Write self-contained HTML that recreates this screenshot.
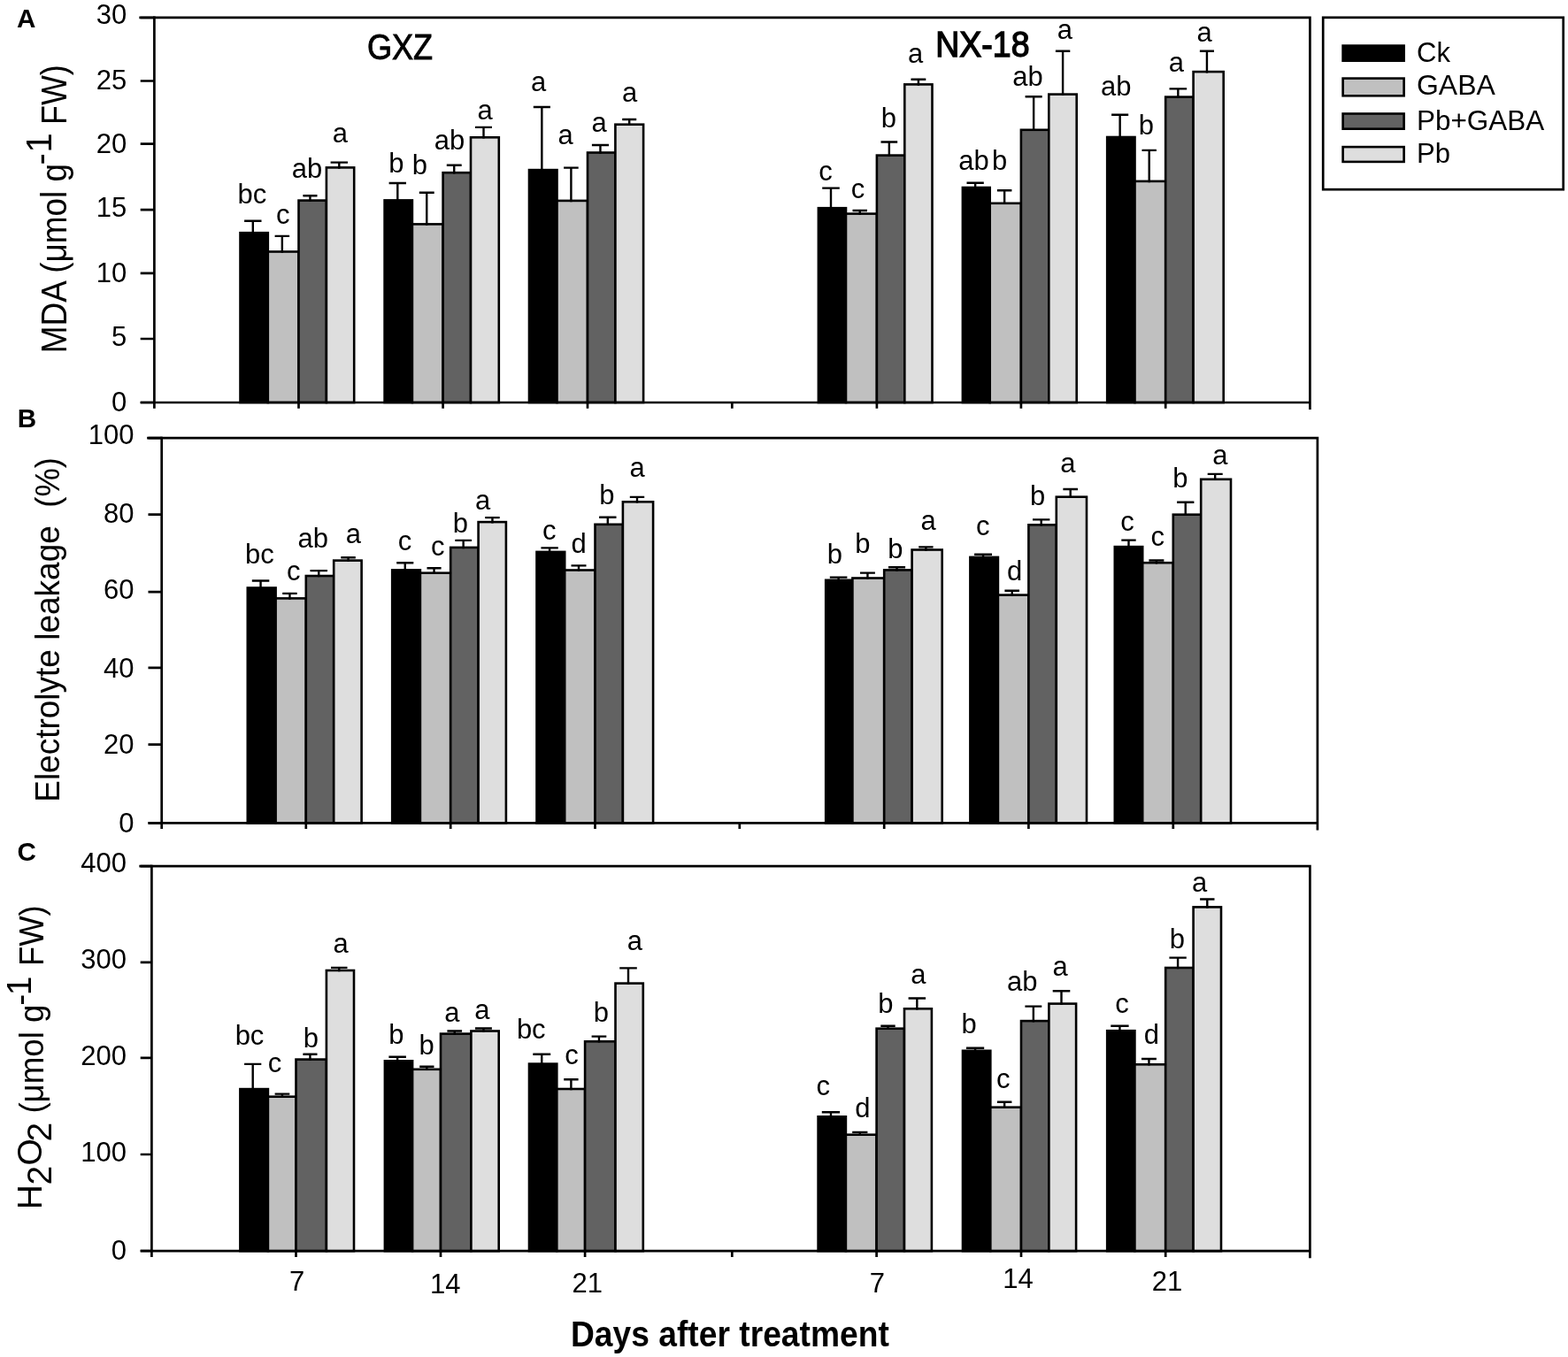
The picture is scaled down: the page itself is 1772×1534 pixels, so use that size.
<!DOCTYPE html>
<html><head><meta charset="utf-8"><title>MDA, electrolyte leakage and H2O2</title>
<style>html,body{margin:0;padding:0;background:#fff;width:1772px;height:1534px;overflow:hidden}svg{display:block}text{font-family:"Liberation Sans",Arial,sans-serif;fill:#000}</style>
</head><body>
<svg width="1772" height="1534" viewBox="0 0 1772 1534">
<rect x="0" y="0" width="1772" height="1534" fill="#fff"/>
<g id="panelA">
<rect x="271.5" y="263.2" width="31.3" height="191.8" fill="#000000" stroke="#000" stroke-width="2.6"/>
<rect x="302.8" y="284.5" width="34.7" height="170.5" fill="#c0c0c0" stroke="#000" stroke-width="2.6"/>
<rect x="337.5" y="226.6" width="31.4" height="228.4" fill="#626262" stroke="#000" stroke-width="2.6"/>
<rect x="368.9" y="189.4" width="31.3" height="265.6" fill="#dedede" stroke="#000" stroke-width="2.6"/>
<path d="M276.1 249.7H295.5M285.8 249.7V264.5" stroke="#000" stroke-width="2.4" fill="none"/>
<text x="284.95" y="229.6" font-size="31" text-anchor="middle">bc</text>
<path d="M310.6 266.9H327.1M318.85 266.9V285.8" stroke="#000" stroke-width="2.4" fill="none"/>
<text x="319.7" y="252.6" font-size="31" text-anchor="middle">c</text>
<path d="M342.4 221.3H358.5M350.45 221.3V227.9" stroke="#000" stroke-width="2.4" fill="none"/>
<text x="346.9" y="201" font-size="31" text-anchor="middle">ab</text>
<path d="M373.6 183.6H393M383.3 183.6V190.7" stroke="#000" stroke-width="2.4" fill="none"/>
<text x="384.25" y="161.2" font-size="31" text-anchor="middle">a</text>
<rect x="434.6" y="226.4" width="31.3" height="228.6" fill="#000000" stroke="#000" stroke-width="2.6"/>
<rect x="465.9" y="253.4" width="34.7" height="201.6" fill="#c0c0c0" stroke="#000" stroke-width="2.6"/>
<rect x="500.6" y="195.2" width="31.4" height="259.8" fill="#626262" stroke="#000" stroke-width="2.6"/>
<rect x="532" y="155.3" width="31.8" height="299.7" fill="#dedede" stroke="#000" stroke-width="2.6"/>
<path d="M439.6 207H459M449.3 207V227.7" stroke="#000" stroke-width="2.4" fill="none"/>
<text x="447.9" y="195" font-size="31" text-anchor="middle">b</text>
<path d="M473.8 217.8H490.7M482.25 217.8V254.7" stroke="#000" stroke-width="2.4" fill="none"/>
<text x="474.4" y="197.4" font-size="31" text-anchor="middle">b</text>
<path d="M504.8 186.8H521.7M513.25 186.8V196.5" stroke="#000" stroke-width="2.4" fill="none"/>
<text x="508.05" y="169.2" font-size="31" text-anchor="middle">ab</text>
<path d="M537 143.9H556M546.5 143.9V156.6" stroke="#000" stroke-width="2.4" fill="none"/>
<text x="548" y="135.2" font-size="31" text-anchor="middle">a</text>
<rect x="598" y="192.1" width="31.5" height="262.9" fill="#000000" stroke="#000" stroke-width="2.6"/>
<rect x="629.5" y="226.9" width="34.5" height="228.1" fill="#c0c0c0" stroke="#000" stroke-width="2.6"/>
<rect x="664" y="172.5" width="31.4" height="282.5" fill="#626262" stroke="#000" stroke-width="2.6"/>
<rect x="695.4" y="140.7" width="31.7" height="314.3" fill="#dedede" stroke="#000" stroke-width="2.6"/>
<path d="M602.8 121H621.9M612.35 121V193.4" stroke="#000" stroke-width="2.4" fill="none"/>
<text x="608.5" y="103" font-size="31" text-anchor="middle">a</text>
<path d="M637.1 189.6H653.7M645.4 189.6V228.2" stroke="#000" stroke-width="2.4" fill="none"/>
<text x="639" y="162.8" font-size="31" text-anchor="middle">a</text>
<path d="M668.9 164H688M678.45 164V173.8" stroke="#000" stroke-width="2.4" fill="none"/>
<text x="677.2" y="148.8" font-size="31" text-anchor="middle">a</text>
<path d="M703.2 135H719.2M711.2 135V142" stroke="#000" stroke-width="2.4" fill="none"/>
<text x="711.5" y="114.5" font-size="31" text-anchor="middle">a</text>
<rect x="924.9" y="235.2" width="31.1" height="219.8" fill="#000000" stroke="#000" stroke-width="2.6"/>
<rect x="956" y="241.6" width="34.9" height="213.4" fill="#c0c0c0" stroke="#000" stroke-width="2.6"/>
<rect x="990.9" y="175.6" width="31.4" height="279.4" fill="#626262" stroke="#000" stroke-width="2.6"/>
<rect x="1022.3" y="95.4" width="31.2" height="359.6" fill="#dedede" stroke="#000" stroke-width="2.6"/>
<path d="M929.2 212.6H948.8M939 212.6V236.5" stroke="#000" stroke-width="2.4" fill="none"/>
<text x="933.1" y="203.7" font-size="31" text-anchor="middle">c</text>
<path d="M963.5 238H980M971.75 238V242.9" stroke="#000" stroke-width="2.4" fill="none"/>
<text x="969.45" y="223.7" font-size="31" text-anchor="middle">c</text>
<path d="M995.5 160.5H1014.2M1004.85 160.5V176.9" stroke="#000" stroke-width="2.4" fill="none"/>
<text x="1004.25" y="143.6" font-size="31" text-anchor="middle">b</text>
<path d="M1029.5 89.7H1046.3M1037.9 89.7V96.7" stroke="#000" stroke-width="2.4" fill="none"/>
<text x="1034.55" y="71.4" font-size="31" text-anchor="middle">a</text>
<rect x="1087.9" y="212" width="30.8" height="243" fill="#000000" stroke="#000" stroke-width="2.6"/>
<rect x="1118.7" y="229.8" width="35.2" height="225.2" fill="#c0c0c0" stroke="#000" stroke-width="2.6"/>
<rect x="1153.9" y="146.8" width="31.4" height="308.2" fill="#626262" stroke="#000" stroke-width="2.6"/>
<rect x="1185.3" y="106.6" width="31.4" height="348.4" fill="#dedede" stroke="#000" stroke-width="2.6"/>
<path d="M1092.5 206.8H1111.8M1102.15 206.8V213.3" stroke="#000" stroke-width="2.4" fill="none"/>
<text x="1100.5" y="192.3" font-size="31" text-anchor="middle">ab</text>
<path d="M1126.9 215.2H1143.4M1135.15 215.2V231.1" stroke="#000" stroke-width="2.4" fill="none"/>
<text x="1129.6" y="192.3" font-size="31" text-anchor="middle">b</text>
<path d="M1158.6 109.2H1177.7M1168.15 109.2V148.1" stroke="#000" stroke-width="2.4" fill="none"/>
<text x="1161.4" y="97.4" font-size="31" text-anchor="middle">ab</text>
<path d="M1192.9 57.8H1209.3M1201.1 57.8V107.9" stroke="#000" stroke-width="2.4" fill="none"/>
<text x="1203.35" y="43.7" font-size="31" text-anchor="middle">a</text>
<rect x="1251.2" y="155" width="31.3" height="300" fill="#000000" stroke="#000" stroke-width="2.6"/>
<rect x="1282.5" y="204.9" width="34.7" height="250.1" fill="#c0c0c0" stroke="#000" stroke-width="2.6"/>
<rect x="1317.2" y="109.6" width="31.4" height="345.4" fill="#626262" stroke="#000" stroke-width="2.6"/>
<rect x="1348.6" y="81.1" width="34.1" height="373.9" fill="#dedede" stroke="#000" stroke-width="2.6"/>
<path d="M1256.1 129.7H1275.2M1265.65 129.7V156.3" stroke="#000" stroke-width="2.4" fill="none"/>
<text x="1261.25" y="108.3" font-size="31" text-anchor="middle">ab</text>
<path d="M1290.5 169.9H1306.9M1298.7 169.9V206.2" stroke="#000" stroke-width="2.4" fill="none"/>
<text x="1295.45" y="152.3" font-size="31" text-anchor="middle">b</text>
<path d="M1321.5 100.4H1341.2M1331.35 100.4V110.9" stroke="#000" stroke-width="2.4" fill="none"/>
<text x="1329.45" y="81" font-size="31" text-anchor="middle">a</text>
<path d="M1355.9 57.8H1372M1363.95 57.8V82.4" stroke="#000" stroke-width="2.4" fill="none"/>
<text x="1361" y="46.7" font-size="31" text-anchor="middle">a</text>
<path d="M158.7 19.9H1480.4V461.7" stroke="#000" stroke-width="2.7" fill="none" stroke-linecap="square"/>
<path d="M174.4 18.55V461.7" stroke="#000" stroke-width="2.7" fill="none"/>
<path d="M158.7 455H1480.4" stroke="#000" stroke-width="2.7" fill="none"/>
<path d="M158.7 20H174.4M158.7 91.5H174.4M158.7 162.7H174.4M158.7 237.1H174.4M158.7 308.8H174.4M158.7 383H174.4M158.7 455H174.4" stroke="#000" stroke-width="2.7" fill="none"/>
<path d="M827.3 455V461.7M337.5 455V461.7M500.6 455V461.7M664 455V461.7M990.9 455V461.7M1153.9 455V461.7M1317.2 455V461.7" stroke="#000" stroke-width="2.7" fill="none"/>
<text x="143.2" y="27.1" font-size="31" text-anchor="end">30</text>
<text x="143.2" y="101.4" font-size="31" text-anchor="end">25</text>
<text x="143.2" y="172.9" font-size="31" text-anchor="end">20</text>
<text x="143.2" y="244.8" font-size="31" text-anchor="end">15</text>
<text x="143.2" y="319" font-size="31" text-anchor="end">10</text>
<text x="143.2" y="391" font-size="31" text-anchor="end">5</text>
<text x="143.2" y="464.9" font-size="31" text-anchor="end">0</text>
</g>
<g id="panelB">
<rect x="279.8" y="664.5" width="31.8" height="265.9" fill="#000000" stroke="#000" stroke-width="2.6"/>
<rect x="311.6" y="676.4" width="34.2" height="254" fill="#c0c0c0" stroke="#000" stroke-width="2.6"/>
<rect x="345.8" y="651" width="31.4" height="279.4" fill="#626262" stroke="#000" stroke-width="2.6"/>
<rect x="377.2" y="633.6" width="31.4" height="296.8" fill="#dedede" stroke="#000" stroke-width="2.6"/>
<path d="M284.8 656.5H304.3M294.55 656.5V665.8" stroke="#000" stroke-width="2.4" fill="none"/>
<text x="293.35" y="636.5" font-size="31" text-anchor="middle">bc</text>
<path d="M319.2 670.9H335.7M327.45 670.9V677.7" stroke="#000" stroke-width="2.4" fill="none"/>
<text x="331.65" y="656.4" font-size="31" text-anchor="middle">c</text>
<path d="M350.5 645.1H370M360.25 645.1V652.3" stroke="#000" stroke-width="2.4" fill="none"/>
<text x="353.7" y="619.2" font-size="31" text-anchor="middle">ab</text>
<path d="M385.3 630.2H401.8M393.55 630.2V634.9" stroke="#000" stroke-width="2.4" fill="none"/>
<text x="399.25" y="613.6" font-size="31" text-anchor="middle">a</text>
<rect x="443.2" y="644.4" width="31.7" height="286" fill="#000000" stroke="#000" stroke-width="2.6"/>
<rect x="474.9" y="647.7" width="34.3" height="282.7" fill="#c0c0c0" stroke="#000" stroke-width="2.6"/>
<rect x="509.2" y="618.9" width="31.4" height="311.5" fill="#626262" stroke="#000" stroke-width="2.6"/>
<rect x="540.6" y="590.1" width="31.3" height="340.3" fill="#dedede" stroke="#000" stroke-width="2.6"/>
<path d="M448.2 636.3H467.3M457.75 636.3V645.7" stroke="#000" stroke-width="2.4" fill="none"/>
<text x="457.5" y="622.3" font-size="31" text-anchor="middle">c</text>
<path d="M482.5 642.3H498.6M490.55 642.3V649" stroke="#000" stroke-width="2.4" fill="none"/>
<text x="494.8" y="627.8" font-size="31" text-anchor="middle">c</text>
<path d="M514.3 610.9H533M523.65 610.9V620.2" stroke="#000" stroke-width="2.4" fill="none"/>
<text x="520.25" y="601.5" font-size="31" text-anchor="middle">b</text>
<path d="M548.2 585.1H564.7M556.45 585.1V591.4" stroke="#000" stroke-width="2.4" fill="none"/>
<text x="545.7" y="576.1" font-size="31" text-anchor="middle">a</text>
<rect x="606.5" y="623.9" width="31.7" height="306.5" fill="#000000" stroke="#000" stroke-width="2.6"/>
<rect x="638.2" y="644.5" width="34.3" height="285.9" fill="#c0c0c0" stroke="#000" stroke-width="2.6"/>
<rect x="672.5" y="592.8" width="31.4" height="337.6" fill="#626262" stroke="#000" stroke-width="2.6"/>
<rect x="703.9" y="567.3" width="34.2" height="363.1" fill="#dedede" stroke="#000" stroke-width="2.6"/>
<path d="M611.4 619.4H630.8M621.1 619.4V625.2" stroke="#000" stroke-width="2.4" fill="none"/>
<text x="620.8" y="610.3" font-size="31" text-anchor="middle">c</text>
<path d="M645.5 639.4H662.5M654 639.4V645.8" stroke="#000" stroke-width="2.4" fill="none"/>
<text x="654" y="625" font-size="31" text-anchor="middle">d</text>
<path d="M677.1 584.8H696.5M686.8 584.8V594.1" stroke="#000" stroke-width="2.4" fill="none"/>
<text x="685.95" y="570.4" font-size="31" text-anchor="middle">b</text>
<path d="M711.8 561.9H728.2M720 561.9V568.6" stroke="#000" stroke-width="2.4" fill="none"/>
<text x="720" y="538.7" font-size="31" text-anchor="middle">a</text>
<rect x="933.2" y="655.8" width="30.2" height="274.6" fill="#000000" stroke="#000" stroke-width="2.6"/>
<rect x="963.4" y="653.5" width="35.8" height="276.9" fill="#c0c0c0" stroke="#000" stroke-width="2.6"/>
<rect x="999.2" y="644.4" width="31.4" height="286" fill="#626262" stroke="#000" stroke-width="2.6"/>
<rect x="1030.6" y="621.5" width="34.1" height="308.9" fill="#dedede" stroke="#000" stroke-width="2.6"/>
<path d="M937.8 652.6H957.4M947.6 652.6V657.1" stroke="#000" stroke-width="2.4" fill="none"/>
<text x="943.25" y="636.7" font-size="31" text-anchor="middle">b</text>
<path d="M972 647.6H988.9M980.45 647.6V654.8" stroke="#000" stroke-width="2.4" fill="none"/>
<text x="974.8" y="625.3" font-size="31" text-anchor="middle">b</text>
<path d="M1004 641.2H1023.1M1013.55 641.2V645.7" stroke="#000" stroke-width="2.4" fill="none"/>
<text x="1011.95" y="630.7" font-size="31" text-anchor="middle">b</text>
<path d="M1038.2 618.4H1054.6M1046.4 618.4V622.8" stroke="#000" stroke-width="2.4" fill="none"/>
<text x="1049.15" y="599.2" font-size="31" text-anchor="middle">a</text>
<rect x="1096.4" y="629.9" width="31.5" height="300.5" fill="#000000" stroke="#000" stroke-width="2.6"/>
<rect x="1127.9" y="672.6" width="34.5" height="257.8" fill="#c0c0c0" stroke="#000" stroke-width="2.6"/>
<rect x="1162.4" y="593.3" width="31.4" height="337.1" fill="#626262" stroke="#000" stroke-width="2.6"/>
<rect x="1193.8" y="561.7" width="34.2" height="368.7" fill="#dedede" stroke="#000" stroke-width="2.6"/>
<path d="M1101.1 626.7H1121M1111.05 626.7V631.2" stroke="#000" stroke-width="2.4" fill="none"/>
<text x="1110.75" y="605.3" font-size="31" text-anchor="middle">c</text>
<path d="M1135.4 667.7H1152M1143.7 667.7V673.9" stroke="#000" stroke-width="2.4" fill="none"/>
<text x="1146.5" y="656.3" font-size="31" text-anchor="middle">d</text>
<path d="M1167 587.4H1186.4M1176.7 587.4V594.6" stroke="#000" stroke-width="2.4" fill="none"/>
<text x="1172.55" y="571" font-size="31" text-anchor="middle">b</text>
<path d="M1201.4 553H1218M1209.7 553V563" stroke="#000" stroke-width="2.4" fill="none"/>
<text x="1206.9" y="533.9" font-size="31" text-anchor="middle">a</text>
<rect x="1259.8" y="618.1" width="31.4" height="312.3" fill="#000000" stroke="#000" stroke-width="2.6"/>
<rect x="1291.2" y="636.2" width="34.6" height="294.2" fill="#c0c0c0" stroke="#000" stroke-width="2.6"/>
<rect x="1325.8" y="581.7" width="31.4" height="348.7" fill="#626262" stroke="#000" stroke-width="2.6"/>
<rect x="1357.2" y="541.8" width="33.8" height="388.6" fill="#dedede" stroke="#000" stroke-width="2.6"/>
<path d="M1267.3 610.6H1283.7M1275.5 610.6V619.4" stroke="#000" stroke-width="2.4" fill="none"/>
<text x="1274.05" y="599.7" font-size="31" text-anchor="middle">c</text>
<path d="M1298.4 633.5H1315.4M1306.9 633.5V637.5" stroke="#000" stroke-width="2.4" fill="none"/>
<text x="1308.35" y="616.8" font-size="31" text-anchor="middle">c</text>
<path d="M1330.1 567.8H1349.4M1339.75 567.8V583" stroke="#000" stroke-width="2.4" fill="none"/>
<text x="1333.9" y="551" font-size="31" text-anchor="middle">b</text>
<path d="M1364.7 535.9H1381.7M1373.2 535.9V543.1" stroke="#000" stroke-width="2.4" fill="none"/>
<text x="1378.75" y="525.2" font-size="31" text-anchor="middle">a</text>
<path d="M167.5 495.2H1488.9V937.1" stroke="#000" stroke-width="2.7" fill="none" stroke-linecap="square"/>
<path d="M182.7 493.85V937.1" stroke="#000" stroke-width="2.7" fill="none"/>
<path d="M167.5 930.4H1488.9" stroke="#000" stroke-width="2.7" fill="none"/>
<path d="M167.5 495.2H182.7M167.5 581.6H182.7M167.5 669.2H182.7M167.5 754.8H182.7M167.5 841.7H182.7M167.5 930.4H182.7" stroke="#000" stroke-width="2.7" fill="none"/>
<path d="M835.8 930.4V937.1M345.8 930.4V937.1M509.2 930.4V937.1M672.5 930.4V937.1M999.2 930.4V937.1M1162.4 930.4V937.1M1325.8 930.4V937.1" stroke="#000" stroke-width="2.7" fill="none"/>
<text x="151.4" y="502.2" font-size="31" text-anchor="end">100</text>
<text x="151.4" y="591.2" font-size="31" text-anchor="end">80</text>
<text x="151.4" y="677" font-size="31" text-anchor="end">60</text>
<text x="151.4" y="765.5" font-size="31" text-anchor="end">40</text>
<text x="151.4" y="852.3" font-size="31" text-anchor="end">20</text>
<text x="151.4" y="940.5" font-size="31" text-anchor="end">0</text>
</g>
<g id="panelC">
<rect x="271.4" y="1231.1" width="31.5" height="183.1" fill="#000000" stroke="#000" stroke-width="2.6"/>
<rect x="302.9" y="1239.7" width="31.6" height="174.5" fill="#c0c0c0" stroke="#000" stroke-width="2.6"/>
<rect x="334.5" y="1197.6" width="34.4" height="216.6" fill="#626262" stroke="#000" stroke-width="2.6"/>
<rect x="368.9" y="1097" width="31.1" height="317.2" fill="#dedede" stroke="#000" stroke-width="2.6"/>
<path d="M276.1 1202.9H295.3M285.7 1202.9V1232.4" stroke="#000" stroke-width="2.4" fill="none"/>
<text x="282" y="1180.6" font-size="31" text-anchor="middle">bc</text>
<path d="M310.6 1236.6H327.3M318.95 1236.6V1241" stroke="#000" stroke-width="2.4" fill="none"/>
<text x="310.45" y="1212.2" font-size="31" text-anchor="middle">c</text>
<path d="M342.4 1191.8H358.5M350.45 1191.8V1198.9" stroke="#000" stroke-width="2.4" fill="none"/>
<text x="351.35" y="1183.7" font-size="31" text-anchor="middle">b</text>
<path d="M374 1093.9H392.5M383.25 1093.9V1098.3" stroke="#000" stroke-width="2.4" fill="none"/>
<text x="385.1" y="1077.2" font-size="31" text-anchor="middle">a</text>
<rect x="434.9" y="1199.3" width="31.2" height="214.9" fill="#000000" stroke="#000" stroke-width="2.6"/>
<rect x="466.1" y="1208.8" width="31.9" height="205.4" fill="#c0c0c0" stroke="#000" stroke-width="2.6"/>
<rect x="498" y="1168.6" width="34.4" height="245.6" fill="#626262" stroke="#000" stroke-width="2.6"/>
<rect x="532.4" y="1165.5" width="31.3" height="248.7" fill="#dedede" stroke="#000" stroke-width="2.6"/>
<path d="M439.4 1194.7H458.9M449.15 1194.7V1200.6" stroke="#000" stroke-width="2.4" fill="none"/>
<text x="447.8" y="1180.4" font-size="31" text-anchor="middle">b</text>
<path d="M474.2 1205.7H490.5M482.35 1205.7V1210.1" stroke="#000" stroke-width="2.4" fill="none"/>
<text x="482.1" y="1191.7" font-size="31" text-anchor="middle">b</text>
<path d="M505.4 1165.5H522.1M513.75 1165.5V1169.9" stroke="#000" stroke-width="2.4" fill="none"/>
<text x="510.8" y="1154.7" font-size="31" text-anchor="middle">a</text>
<path d="M537 1162.5H555.9M546.45 1162.5V1166.8" stroke="#000" stroke-width="2.4" fill="none"/>
<text x="544.9" y="1151.5" font-size="31" text-anchor="middle">a</text>
<rect x="598" y="1202.6" width="31.3" height="211.6" fill="#000000" stroke="#000" stroke-width="2.6"/>
<rect x="629.3" y="1231" width="31.8" height="183.2" fill="#c0c0c0" stroke="#000" stroke-width="2.6"/>
<rect x="661.1" y="1177.3" width="34.4" height="236.9" fill="#626262" stroke="#000" stroke-width="2.6"/>
<rect x="695.5" y="1111.6" width="31.3" height="302.6" fill="#dedede" stroke="#000" stroke-width="2.6"/>
<path d="M602.3 1191.8H622.2M612.25 1191.8V1203.9" stroke="#000" stroke-width="2.4" fill="none"/>
<text x="600.25" y="1173.8" font-size="31" text-anchor="middle">bc</text>
<path d="M637.2 1220.2H653.6M645.4 1220.2V1232.3" stroke="#000" stroke-width="2.4" fill="none"/>
<text x="646" y="1202.9" font-size="31" text-anchor="middle">c</text>
<path d="M668.6 1171.6H685.3M676.95 1171.6V1178.6" stroke="#000" stroke-width="2.4" fill="none"/>
<text x="679.45" y="1154.6" font-size="31" text-anchor="middle">b</text>
<path d="M700.2 1094.4H719.8M710 1094.4V1112.9" stroke="#000" stroke-width="2.4" fill="none"/>
<text x="717.25" y="1074.1" font-size="31" text-anchor="middle">a</text>
<rect x="924.6" y="1262.3" width="31.3" height="151.9" fill="#000000" stroke="#000" stroke-width="2.6"/>
<rect x="955.9" y="1282.7" width="34.7" height="131.5" fill="#c0c0c0" stroke="#000" stroke-width="2.6"/>
<rect x="990.6" y="1162.7" width="31.4" height="251.5" fill="#626262" stroke="#000" stroke-width="2.6"/>
<rect x="1022" y="1140.3" width="30.9" height="273.9" fill="#dedede" stroke="#000" stroke-width="2.6"/>
<path d="M928.8 1257.2H949.1M938.95 1257.2V1263.6" stroke="#000" stroke-width="2.4" fill="none"/>
<text x="930.35" y="1237.6" font-size="31" text-anchor="middle">c</text>
<path d="M963.2 1279.9H980.4M971.8 1279.9V1284" stroke="#000" stroke-width="2.4" fill="none"/>
<text x="974.9" y="1263.4" font-size="31" text-anchor="middle">d</text>
<path d="M995.3 1159.8H1011.7M1003.5 1159.8V1164" stroke="#000" stroke-width="2.4" fill="none"/>
<text x="1000.75" y="1145.3" font-size="31" text-anchor="middle">b</text>
<path d="M1026.6 1128.5H1046.1M1036.35 1128.5V1141.6" stroke="#000" stroke-width="2.4" fill="none"/>
<text x="1037.9" y="1111.6" font-size="31" text-anchor="middle">a</text>
<rect x="1088" y="1187.8" width="31.3" height="226.4" fill="#000000" stroke="#000" stroke-width="2.6"/>
<rect x="1119.3" y="1251.7" width="34.7" height="162.5" fill="#c0c0c0" stroke="#000" stroke-width="2.6"/>
<rect x="1154" y="1154.1" width="31.4" height="260.1" fill="#626262" stroke="#000" stroke-width="2.6"/>
<rect x="1185.4" y="1134.6" width="30.7" height="279.6" fill="#dedede" stroke="#000" stroke-width="2.6"/>
<path d="M1092 1184.8H1112.2M1102.1 1184.8V1189.1" stroke="#000" stroke-width="2.4" fill="none"/>
<text x="1095.2" y="1168.2" font-size="31" text-anchor="middle">b</text>
<path d="M1126.9 1245.8H1143.4M1135.15 1245.8V1253" stroke="#000" stroke-width="2.4" fill="none"/>
<text x="1133.65" y="1229.5" font-size="31" text-anchor="middle">c</text>
<path d="M1158.4 1137.6H1177.3M1167.85 1137.6V1155.4" stroke="#000" stroke-width="2.4" fill="none"/>
<text x="1155.2" y="1120" font-size="31" text-anchor="middle">ab</text>
<path d="M1189.7 1120.2H1209.3M1199.5 1120.2V1135.9" stroke="#000" stroke-width="2.4" fill="none"/>
<text x="1198.2" y="1103" font-size="31" text-anchor="middle">a</text>
<rect x="1251.2" y="1165.2" width="31.2" height="249" fill="#000000" stroke="#000" stroke-width="2.6"/>
<rect x="1282.4" y="1203.3" width="34.8" height="210.9" fill="#c0c0c0" stroke="#000" stroke-width="2.6"/>
<rect x="1317.2" y="1094" width="31.4" height="320.2" fill="#626262" stroke="#000" stroke-width="2.6"/>
<rect x="1348.6" y="1025.4" width="31.4" height="388.8" fill="#dedede" stroke="#000" stroke-width="2.6"/>
<path d="M1255.3 1159.7H1275.6M1265.45 1159.7V1166.5" stroke="#000" stroke-width="2.4" fill="none"/>
<text x="1267.95" y="1145.3" font-size="31" text-anchor="middle">c</text>
<path d="M1290 1197H1306.9M1298.45 1197V1204.6" stroke="#000" stroke-width="2.4" fill="none"/>
<text x="1301.45" y="1180" font-size="31" text-anchor="middle">d</text>
<path d="M1321.4 1082.6H1340.8M1331.1 1082.6V1095.3" stroke="#000" stroke-width="2.4" fill="none"/>
<text x="1330.25" y="1071.5" font-size="31" text-anchor="middle">b</text>
<path d="M1356.1 1016.5H1372.5M1364.3 1016.5V1026.7" stroke="#000" stroke-width="2.4" fill="none"/>
<text x="1355.65" y="1008" font-size="31" text-anchor="middle">a</text>
<path d="M158.7 979.2H1480.4V1420.9" stroke="#000" stroke-width="2.7" fill="none" stroke-linecap="square"/>
<path d="M171.4 977.85V1420.9" stroke="#000" stroke-width="2.7" fill="none"/>
<path d="M158.7 1414.2H1480.4" stroke="#000" stroke-width="2.7" fill="none"/>
<path d="M158.7 979.2H171.4M158.7 1087.9H171.4M158.7 1195.9H171.4M158.7 1305H171.4M158.7 1414H171.4" stroke="#000" stroke-width="2.7" fill="none"/>
<path d="M827.3 1414.2V1420.9M334.5 1414.2V1420.9M498 1414.2V1420.9M661.1 1414.2V1420.9M990.6 1414.2V1420.9M1154 1414.2V1420.9M1317.2 1414.2V1420.9" stroke="#000" stroke-width="2.7" fill="none"/>
<text x="143.1" y="985.9" font-size="31" text-anchor="end">400</text>
<text x="143.1" y="1094.6" font-size="31" text-anchor="end">300</text>
<text x="143.1" y="1204.2" font-size="31" text-anchor="end">200</text>
<text x="143.1" y="1312.8" font-size="31" text-anchor="end">100</text>
<text x="143.1" y="1423.5" font-size="31" text-anchor="end">0</text>
</g>
<text x="19" y="31" font-size="29.6" font-weight="bold">A</text>
<text x="19.8" y="482.5" font-size="29.6" font-weight="bold">B</text>
<text x="19.5" y="973" font-size="29.6" font-weight="bold">C</text>
<text x="414.9" y="67.1" font-size="40" stroke="#000" stroke-width="0.9" textLength="74.2" lengthAdjust="spacingAndGlyphs">GXZ</text>
<text x="1057.3" y="64.2" font-size="40" stroke="#000" stroke-width="1.4" textLength="106.2" lengthAdjust="spacingAndGlyphs">NX-18</text>
<rect x="1495.2" y="19.8" width="271.5" height="194.4" fill="none" stroke="#000" stroke-width="2.7"/>
<rect x="1517.6" y="51.6" width="69" height="17.1" fill="#000000" stroke="#000" stroke-width="2.6"/>
<text x="1601" y="70" font-size="31">Ck</text>
<rect x="1517.6" y="88.6" width="69" height="19.7" fill="#c0c0c0" stroke="#000" stroke-width="2.6"/>
<text x="1601" y="107.1" font-size="31" textLength="88.8" lengthAdjust="spacingAndGlyphs">GABA</text>
<rect x="1517.6" y="128.5" width="69" height="17.2" fill="#626262" stroke="#000" stroke-width="2.6"/>
<text x="1601" y="146.7" font-size="31" textLength="144.1" lengthAdjust="spacingAndGlyphs">Pb+GABA</text>
<rect x="1517.6" y="166.1" width="69" height="16.8" fill="#dedede" stroke="#000" stroke-width="2.6"/>
<text x="1601" y="183.7" font-size="31">Pb</text>
<text transform="translate(75.1,0) rotate(-90)" font-size="40" x="-399.2" textLength="214.3" lengthAdjust="spacingAndGlyphs">MDA (μmol g</text>
<text transform="translate(58.6,0) rotate(-90)" font-size="40" x="-186.4">-</text>
<text transform="translate(58.2,0) rotate(-90)" font-size="40" x="-172.5">1</text>
<text transform="translate(75.1,0) rotate(-90)" font-size="40" x="-140.9" textLength="67.7" lengthAdjust="spacingAndGlyphs">FW)</text>
<text transform="translate(66.5,0) rotate(-90)" font-size="39" x="-906.8" textLength="312.6" lengthAdjust="spacingAndGlyphs">Electrolyte leakage</text>
<text transform="translate(66.5,0) rotate(-90)" font-size="39" x="-573.7" textLength="56.7" lengthAdjust="spacingAndGlyphs">(%)</text>
<text transform="translate(46.8,0) rotate(-90)" font-size="39" x="-1367.3">H</text>
<text transform="translate(58.2,0) rotate(-90)" font-size="39" x="-1339.5">2</text>
<text transform="translate(46.8,0) rotate(-90)" font-size="39" x="-1317.5">O</text>
<text transform="translate(58.2,0) rotate(-90)" font-size="39" x="-1290.5">2</text>
<text transform="translate(49.3,0) rotate(-90)" font-size="39" x="-1258.6" textLength="123" lengthAdjust="spacingAndGlyphs">(μmol g</text>
<text transform="translate(35.6,0) rotate(-90)" font-size="39" x="-1136.8">-</text>
<text transform="translate(35.2,0) rotate(-90)" font-size="39" x="-1125.3">1</text>
<text transform="translate(49.3,0) rotate(-90)" font-size="39" x="-1091.9" textLength="68.5" lengthAdjust="spacingAndGlyphs">FW)</text>
<text x="335.55" y="1458.7" font-size="31" text-anchor="middle">7</text>
<text x="503.2" y="1461.6" font-size="31" text-anchor="middle">14</text>
<text x="663.7" y="1460.8" font-size="31" text-anchor="middle">21</text>
<text x="991.45" y="1460.8" font-size="31" text-anchor="middle">7</text>
<text x="1150.45" y="1455.9" font-size="31" text-anchor="middle">14</text>
<text x="1319.1" y="1458.6" font-size="31" text-anchor="middle">21</text>
<text x="645" y="1521.7" font-size="40" font-weight="bold" textLength="359.8" lengthAdjust="spacingAndGlyphs">Days after treatment</text>
</svg></body></html>
